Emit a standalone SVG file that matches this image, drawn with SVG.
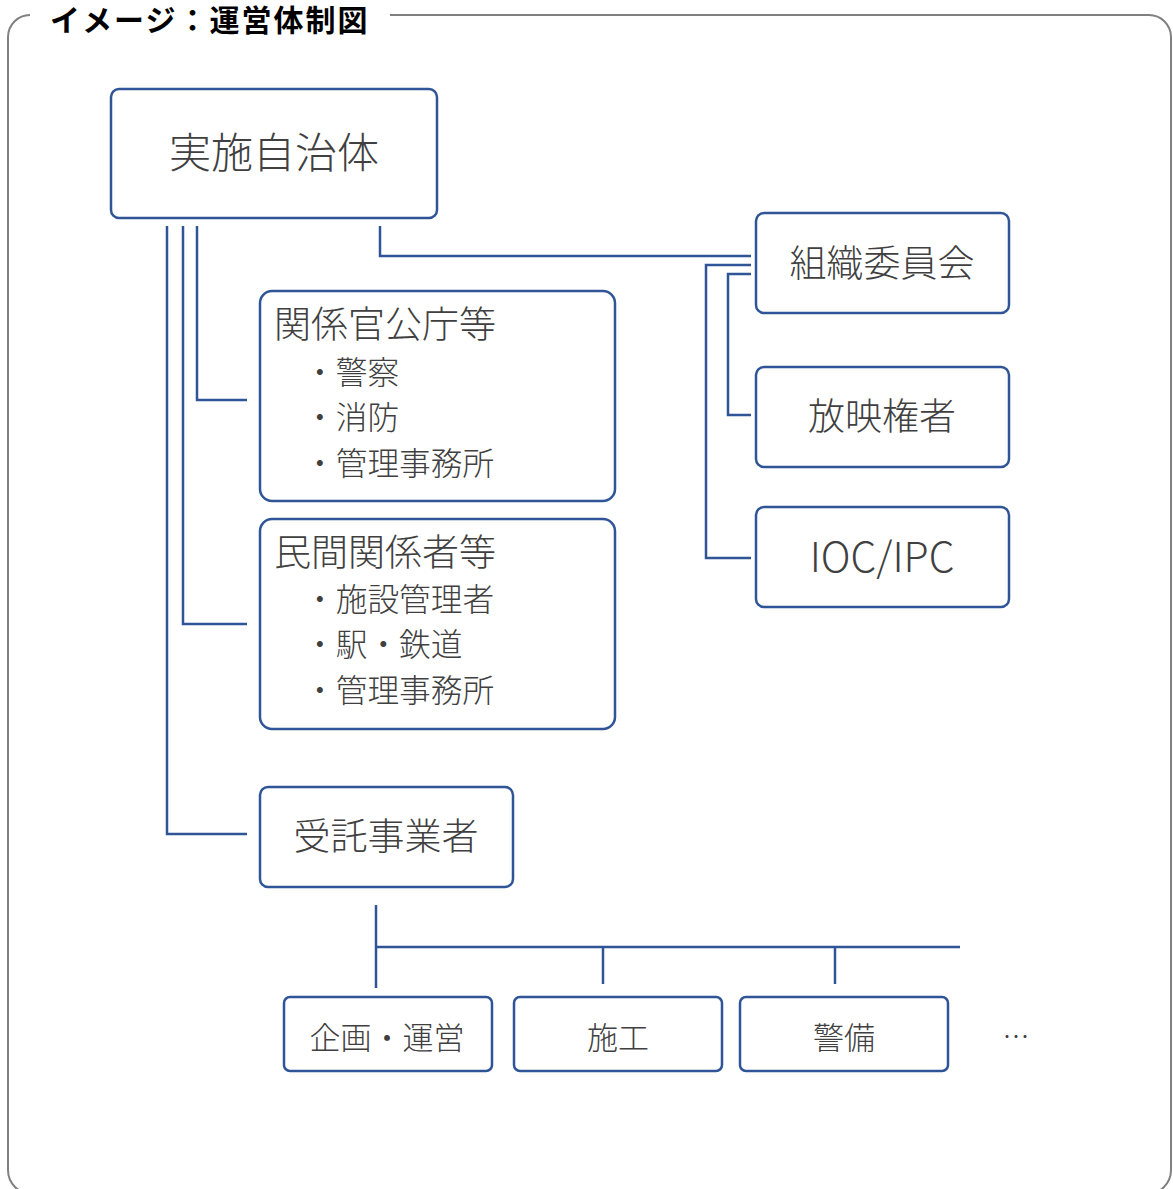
<svg xmlns="http://www.w3.org/2000/svg" width="1173" height="1189" viewBox="0 0 1173 1189">
  <style>
    .box { fill: #ffffff; stroke: #2F5597; stroke-width: 2.5; }
    .conn { fill: none; stroke: #2F5597; stroke-width: 2.5; }
    .t { font-family: "Noto Sans CJK JP", "Noto Sans", sans-serif; fill: #404040; font-weight: 300; }
    .title { font-family: "Noto Sans CJK JP", "Noto Sans", sans-serif; fill: #000000; font-weight: bold; font-size: 30px; letter-spacing: 2px; }
  </style>
  <rect width="1173" height="1189" fill="#ffffff"/>
  <g id="frame">
    <path d="M 390 15 L 1149 15 A 22 22 0 0 1 1171 37 L 1171 1170 A 24 24 0 0 1 1147 1194 L 32 1194 A 24 24 0 0 1 8 1170 L 8 37 A 22 22 0 0 1 30 15" fill="none" stroke="#808080" stroke-width="2"/>
    <text class="title" x="50" y="31">イメージ：運営体制図</text>
  </g>
  <g id="connectors">
    <polyline class="conn" points="197,226 197,400 247,400"/>
    <polyline class="conn" points="183,226 183,624 247,624"/>
    <polyline class="conn" points="167,226 167,834 247,834"/>
    <polyline class="conn" points="380,226 380,256 751,256"/>
    <polyline class="conn" points="751,265 706,265 706,558 751,558"/>
    <polyline class="conn" points="751,274 728,274 728,415 751,415"/>
    <polyline class="conn" points="376,905 376,988"/>
    <polyline class="conn" points="376,947 960,947"/>
    <polyline class="conn" points="603,947 603,984"/>
    <polyline class="conn" points="835,947 835,984"/>
  </g>
  <g id="node-jisshi">
    <rect class="box" x="111" y="89" width="326" height="129" rx="8"/>
    <text class="t" x="274" y="168" font-size="42" text-anchor="middle">実施自治体</text>
  </g>
  <g id="node-kankei">
    <rect class="box" x="260" y="291" width="355" height="210" rx="12"/>
    <text class="t" x="274" y="338" font-size="37">関係官公庁等</text>
    <text class="t" x="304" y="384" font-size="31.7">・警察</text>
    <text class="t" x="304" y="429" font-size="31.7">・消防</text>
    <text class="t" x="304" y="475" font-size="31.7">・管理事務所</text>
  </g>
  <g id="node-minkan">
    <rect class="box" x="260" y="519" width="355" height="210" rx="12"/>
    <text class="t" x="274" y="566" font-size="37">民間関係者等</text>
    <text class="t" x="304" y="611" font-size="31.7">・施設管理者</text>
    <text class="t" x="304" y="656" font-size="31.7">・駅・鉄道</text>
    <text class="t" x="304" y="702" font-size="31.7">・管理事務所</text>
  </g>
  <g id="node-jutaku">
    <rect class="box" x="260" y="787" width="253" height="100" rx="8"/>
    <text class="t" x="386" y="850" font-size="37" text-anchor="middle">受託事業者</text>
  </g>
  <g id="node-soshiki">
    <rect class="box" x="756" y="213" width="253" height="100" rx="8"/>
    <text class="t" x="882" y="277" font-size="37" text-anchor="middle">組織委員会</text>
  </g>
  <g id="node-houei">
    <rect class="box" x="756" y="367" width="253" height="100" rx="8"/>
    <text class="t" x="882" y="430" font-size="37" text-anchor="middle">放映権者</text>
  </g>
  <g id="node-ioc">
    <rect class="box" x="756" y="507" width="253" height="100" rx="8"/>
    <text class="t" x="882" y="572" font-size="41" text-anchor="middle">IOC/IPC</text>
  </g>
  <g id="node-kikaku">
    <rect class="box" x="284" y="997" width="208" height="74" rx="6"/>
    <text class="t" x="387" y="1049" font-size="31" text-anchor="middle">企画・運営</text>
  </g>
  <g id="node-sekou">
    <rect class="box" x="514" y="997" width="208" height="74" rx="6"/>
    <text class="t" x="618" y="1049" font-size="31" text-anchor="middle">施工</text>
  </g>
  <g id="node-keibi">
    <rect class="box" x="740" y="997" width="208" height="74" rx="6"/>
    <text class="t" x="844" y="1049" font-size="31" text-anchor="middle">警備</text>
  </g>
  <g id="more">
    <text class="t" x="1016" y="1047" font-size="27" text-anchor="middle">…</text>
  </g>
</svg>
